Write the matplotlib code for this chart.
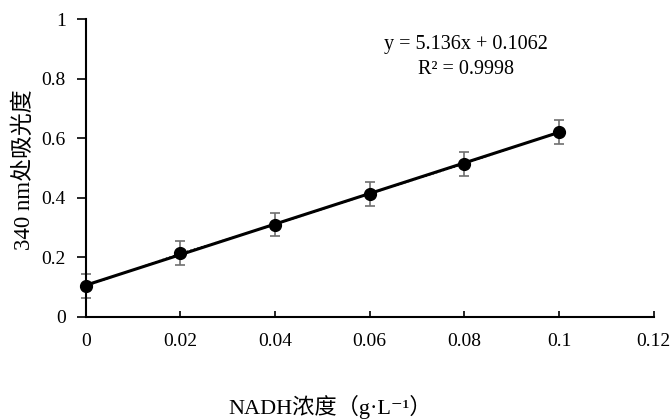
import matplotlib.pyplot as plt
import numpy as np

plt.rcParams['font.family'] = ['Liberation Serif', 'Noto Sans CJK SC', 'DejaVu Sans']

conc = [0, 0.02, 0.04, 0.06, 0.08, 0.1]
absorb = [0.103, 0.213, 0.310, 0.413, 0.514, 0.621]
err = [0.04, 0.04, 0.04, 0.04, 0.04, 0.04]
slope = 5.136
intercept = 0.1062

fig = plt.figure(figsize=(6.71, 4.19), dpi=100)
ax = fig.add_axes([0.128, 0.244, 0.846, 0.71])

ax.errorbar(conc, absorb, yerr=err, fmt='none', ecolor='#707070', elinewidth=1.2,
            capsize=3.6, capthick=1.2, zorder=2, clip_on=False)
ax.plot(conc, absorb, color='black', lw=1, ls=':', zorder=3, clip_on=False)
fit_x = np.array([conc[0], conc[-1]])
ax.plot(fit_x, slope * fit_x + intercept, color='black', lw=2.2, zorder=4, clip_on=False)
ax.plot(conc, absorb, 'o', color='black', ms=8.5, zorder=5, clip_on=False)

ax.set_xlim(0, 0.12)
ax.set_ylim(0, 1)
ax.set_xticks([0, 0.02, 0.04, 0.06, 0.08, 0.1, 0.12])
ax.set_xticklabels(['0', '0.02', '0.04', '0.06', '0.08', '0.1', '0.12'])
ax.set_yticks([0, 0.2, 0.4, 0.6, 0.8, 1])
ax.set_yticklabels(['0', '0.2', '0.4', '0.6', '0.8', '1'])
ax.tick_params(axis='x', labelsize=14, length=4, width=1.2, direction='in', pad=12)
ax.tick_params(axis='y', labelsize=14, length=6.5, width=1.2, direction='out', pad=8)
ax.spines['top'].set_visible(False)
ax.spines['right'].set_visible(False)
ax.spines['left'].set_linewidth(1.5)
ax.spines['bottom'].set_linewidth(1.5)

fig.text(466 / 671, 1 - 45 / 419, 'y = 5.136x + 0.1062', ha='center', va='center', fontsize=14.5)
fig.text(466 / 671, 1 - 70 / 419, 'R² = 0.9998', ha='center', va='center', fontsize=14.5)
fig.text(330 / 671, 1 - 407 / 419, 'NADH浓度（g·L⁻¹）', ha='center', va='center', fontsize=16)
fig.text(24 / 671, 1 - 170 / 419, '340 nm处吸光度', ha='center', va='center', rotation=90, fontsize=16.5)

plt.savefig('out.png', dpi=100)
